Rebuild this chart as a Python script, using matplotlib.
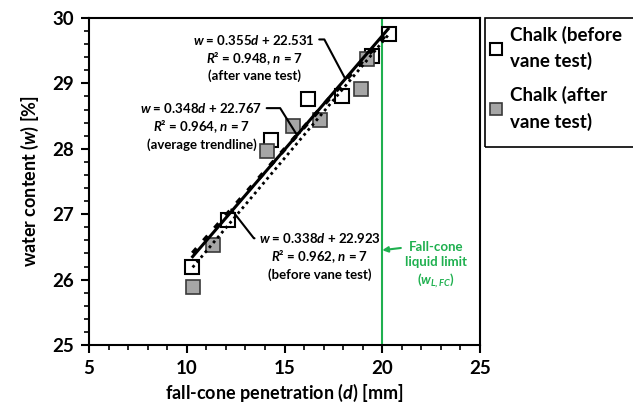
import matplotlib
matplotlib.use("Agg")
import matplotlib.pyplot as plt
from matplotlib.patches import Rectangle
import numpy as np

plt.rcParams['font.family'] = ['Lato', 'DejaVu Sans']
plt.rcParams['font.weight'] = 'bold'
plt.rcParams['axes.labelweight'] = 'bold'
plt.rcParams['mathtext.fontset'] = 'custom'
plt.rcParams['mathtext.rm'] = 'Lato:bold'
plt.rcParams['mathtext.it'] = 'Lato:italic:bold'
plt.rcParams['mathtext.bf'] = 'Lato:bold'

# data
d_before = [10.28, 12.12, 14.30, 16.21, 17.94, 19.47, 20.37]
w_before = [26.20, 26.91, 28.13, 28.76, 28.80, 29.42, 29.76]
d_after = [10.31, 11.33, 14.09, 15.43, 16.81, 18.89, 19.23]
w_after = [25.88, 26.53, 27.96, 28.35, 28.44, 28.91, 29.38]

fit_before = (0.338, 22.923)
fit_after = (0.355, 22.531)
fit_avg = (0.348, 22.767)
d_range = [10.3, 20.3]
liquid_limit_d = 20.0

green = '#1fb04f'

fig = plt.figure(figsize=(6.33, 4.05), dpi=100)
ax = fig.add_axes([0.1406, 0.148, 0.6177, 0.8076])

def line(fit, d):
    return fit[0] * np.asarray(d) + fit[1]

ax.plot(d_range, line(fit_avg, d_range), color='black', lw=2.2, zorder=3)
ax.plot(d_range, line(fit_before, d_range), color='black', lw=3.0,
        dashes=(1.5, 2.5), zorder=3)
ax.plot(d_range, line(fit_after, d_range), color='black', lw=2.0,
        linestyle=(0, (1, 1.3)), zorder=3)

ax.plot(d_before, w_before, 's', ms=10, mfc='white', mec='black', mew=1.5,
        linestyle='none', zorder=2, label='Chalk (before\nvane test)')
ax.plot(d_after, w_after, 's', ms=10, mfc='#a6a6a6', mec='#3a3a3a', mew=1.2,
        linestyle='none', zorder=2, label='Chalk (after\nvane test)')

ax.axvline(liquid_limit_d, color=green, lw=1.5, zorder=1)

ax.set_xlim(5, 25)
ax.set_ylim(25, 30)
ax.set_xticks([5, 10, 15, 20, 25])
ax.set_yticks([25, 26, 27, 28, 29, 30])
ax.set_xticks(np.arange(5, 26, 1), minor=True)
ax.set_yticks(np.arange(25, 30.01, 0.2), minor=True)
ax.tick_params(which='major', direction='out', length=6, width=1.5,
               labelsize=13.5, pad=5)
ax.tick_params(which='minor', direction='out', length=3.5, width=1.2)
for lbl in ax.get_xticklabels() + ax.get_yticklabels():
    lbl.set_fontweight('bold')
for s in ax.spines.values():
    s.set_linewidth(1.5)

ax.set_xlabel('fall-cone penetration ($d$) [mm]', fontsize=13, labelpad=3)
ax.set_ylabel('water content ($w$) [%]', fontsize=13, labelpad=8)

fs = 9.5
ax.annotate('$w$ = 0.355$d$ + 22.531\n$R$² = 0.948, $n$ = 7\n(after vane test)',
            xy=(18.11, line(fit_avg, 18.11)), xytext=(13.45, 29.40),
            ha='center', va='center', fontsize=fs, linespacing=1.25,
            arrowprops=dict(arrowstyle='-', lw=1.5, color='black',
                            shrinkA=1, shrinkB=0,
                            connectionstyle='angle,angleA=0,angleB=-62',
                            relpos=(1.0, 0.86)))
ax.annotate('$w$ = 0.348$d$ + 22.767\n$R$² = 0.964, $n$ = 7\n(average trendline)',
            xy=(15.64, line(fit_avg, 15.64)), xytext=(10.75, 28.35),
            ha='center', va='center', fontsize=fs, linespacing=1.25,
            arrowprops=dict(arrowstyle='-', lw=1.5, color='black',
                            shrinkA=1, shrinkB=0,
                            connectionstyle='angle,angleA=0,angleB=-58',
                            relpos=(1.0, 0.86)))
ax.annotate('$w$ = 0.338$d$ + 22.923\n$R$² = 0.962, $n$ = 7\n(before vane test)',
            xy=(12.28, line(fit_before, 12.28)), xytext=(16.8, 26.36),
            ha='center', va='center', fontsize=fs, linespacing=1.25,
            arrowprops=dict(arrowstyle='-', lw=1.5, color='black',
                            shrinkA=1, shrinkB=0,
                            connectionstyle='angle,angleA=0,angleB=-52',
                            relpos=(0.0, 0.86)))
ax.annotate('Fall-cone\nliquid limit\n($w_{L,FC}$)',
            xy=(liquid_limit_d, 26.45), xytext=(22.75, 26.22),
            ha='center', va='center', fontsize=fs, color=green,
            linespacing=1.3,
            arrowprops=dict(arrowstyle='-|>', lw=1.5, color=green,
                            shrinkA=1, shrinkB=0, mutation_scale=8,
                            relpos=(0.0, 0.86)))

# legend box runs off the right edge of the figure, like the original
fig.patches.append(Rectangle((0.766, 0.637), 0.3, 0.3185,
                             transform=fig.transFigure, fill=False,
                             edgecolor='black', lw=1.2, clip_on=False))
leg = fig.legend(loc='upper left', bbox_to_anchor=(0.766, 0.95),
                 borderaxespad=0, fontsize=13.5, frameon=False,
                 handlelength=0.6, handletextpad=0.45,
                 labelspacing=0.85, borderpad=0.3, markerscale=0.8)
for t in leg.get_texts():
    t.set_fontweight('bold')
    t.set_linespacing(1.55)

fig.savefig('out.png', dpi=100)
